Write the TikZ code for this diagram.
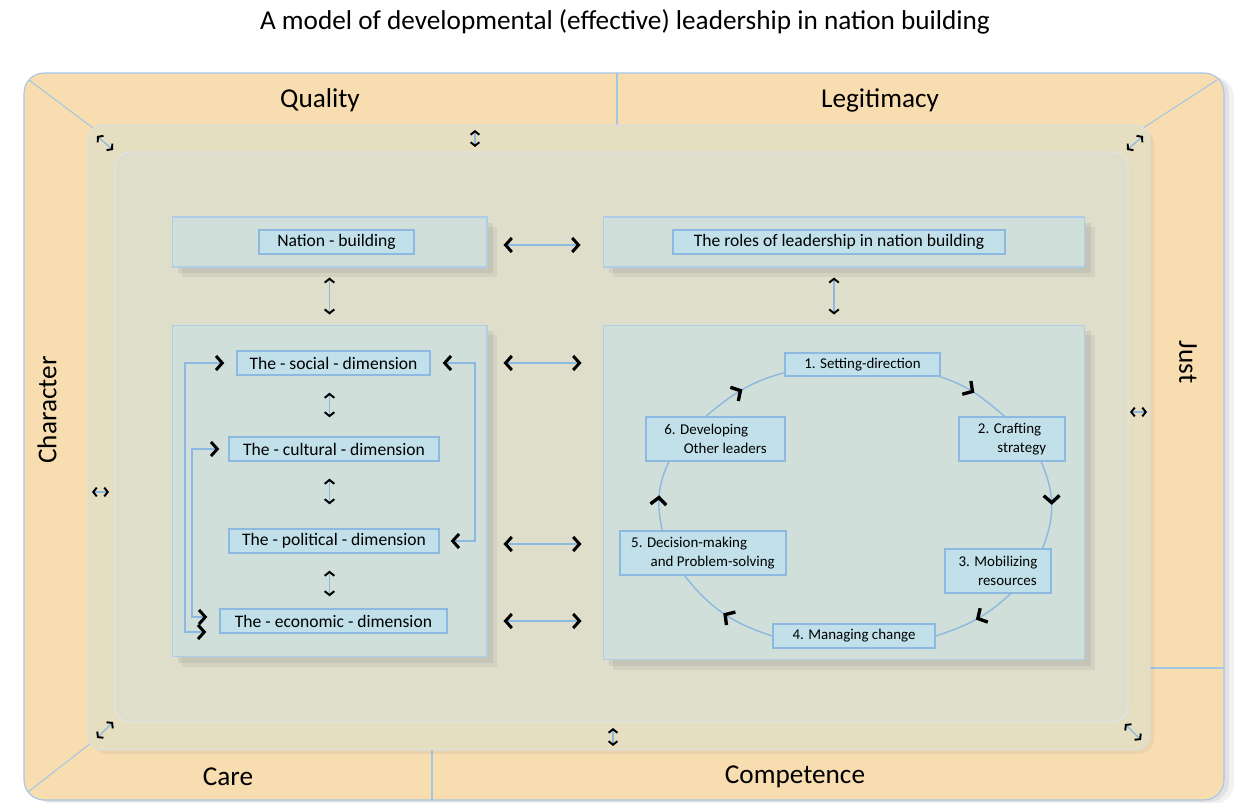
\documentclass[tikz,border=0pt]{standalone}
\usepackage{fontspec}
\setmainfont{Carlito}
\usetikzlibrary{arrows.meta,shadows,decorations.markings}

\definecolor{frameorange}{RGB}{248,221,176}
\definecolor{framesand}{RGB}{229,222,193}
\definecolor{innergrey}{RGB}{222,222,202}
\definecolor{panelgrey}{RGB}{208,223,218}
\definecolor{labelblue}{RGB}{193,224,234}
\definecolor{lineblue}{RGB}{141,184,223}

\begin{document}
\begin{tikzpicture}[x=0.02cm,y=0.02cm,
  >={Straight Barb[black,length=3.6pt,width=8pt,line width=1.7pt]},
  rim/.style={draw=lineblue!80,line width=0.6pt},
  side/.style={font=\fontsize{15.5}{18}\selectfont},
  panel/.style={draw=lineblue!70,fill=panelgrey,line width=0.6pt,inner sep=0pt,
    drop shadow={shadow xshift=0.2cm,shadow yshift=-0.2cm,opacity=0.12},
    drop shadow={shadow xshift=0.12cm,shadow yshift=-0.12cm,opacity=0.15}},
  tag/.style={draw=lineblue,fill=labelblue,line width=0.8pt,inner sep=0pt,
    minimum height=0.48cm,font=\fontsize{10}{12}\selectfont},
  stage/.style={tag,font=\fontsize{8.5}{10.5}\selectfont,align=left},
  link/.style={lineblue,line width=0.8pt,<->},
  vlink/.style={lineblue,line width=0.9pt,
    arrows={Straight Barb[black,length=2.2pt,width=5.5pt,line width=1.1pt]-Straight Barb[black,length=2.2pt,width=5.5pt,line width=1.1pt]}},
  fb/.style={lineblue,line width=0.8pt,<->},
  tiny/.style={lineblue,line width=0.7pt,
    arrows={Straight Barb[black,length=2pt,width=5pt,line width=1.1pt]-Straight Barb[black,length=2pt,width=5pt,line width=1.1pt]}},
  turn/.style={lineblue,line width=0.8pt,postaction={decorate},
    decoration={markings,mark=at position 0.5 with {\arrow{Straight Barb[black,length=4pt,width=9pt,line width=1.9pt]}}}}]

  \useasboundingbox (0,0) rectangle (1248,802);

  \node[font=\fontsize{15.5}{18}\selectfont] (title) at (625,780) {A model of developmental (effective) leadership in nation building};

  \draw[rim,fill=frameorange,rounded corners=0.4cm,
    drop shadow={shadow xshift=0.2cm,shadow yshift=-0.08cm,opacity=0.1},
    drop shadow={shadow xshift=0.1cm,shadow yshift=-0.04cm,opacity=0.15}] (24,2) rectangle (1224,729);
  \draw[rim] (617,729) -- (617,677);
  \draw[rim] (29,722) -- (93,674);
  \draw[rim] (1217,722) -- (1143,674);
  \draw[rim] (1149,134) -- (1224,134);
  \draw[rim] (28,10) -- (91,59);
  \draw[rim] (432,54) -- (432,2);
  \draw[draw=lineblue!40,fill=framesand,rounded corners=0.3cm,
    drop shadow={shadow xshift=0.08cm,shadow yshift=-0.08cm,opacity=0.1}] (88,52) rectangle (1150,677);
  \draw[draw=lineblue!30,fill=innergrey,rounded corners=0.3cm] (115,80) rectangle (1128,650);

  \node[side] (quality) at (320,702) {Quality};
  \node[side] (legit) at (880,702) {Legitimacy};
  \node[side,rotate=90] (character) at (47,392) {Character};
  \node[side,rotate=-90] (just) at (1188,440) {Just};
  \node[side] (care) at (228,25) {Care};
  \node[side] (competence) at (795,25) {Competence};

  \draw[tiny] (97,666) -- (113,652);
  \draw[tiny] (1127,652) -- (1143,666);
  \draw[tiny] (97,64) -- (113,80);
  \draw[tiny] (1125,78) -- (1141,62);
  \draw[tiny] (475,672) -- (475,655);
  \draw[tiny] (613,74) -- (613,56);
  \draw[tiny] (92,310) -- (109,310);
  \draw[tiny] (1130,390) -- (1147,390);

  \node[panel,minimum width=6.3cm,minimum height=1cm] (nb) at (329.5,560) {};
  \node[panel,minimum width=9.64cm,minimum height=1cm] (roles) at (844,560) {};
  \node[panel,minimum width=6.3cm,minimum height=6.64cm] (dims) at (329.5,311) {};
  \node[panel,minimum width=9.64cm,minimum height=6.7cm] (wheel) at (844,309.5) {};

  \node[tag,minimum width=3.1cm] (nbl) at (336.5,560) {Nation - building};
  \node[tag,minimum width=6.64cm] (rl) at (839,560) {The roles of leadership in nation building};
  \node[tag,minimum width=3.86cm] (soc) at (333.5,439) {The - social - dimension};
  \node[tag,minimum width=4.2cm] (cul) at (334,353) {The - cultural - dimension};
  \node[tag,minimum width=4.2cm] (pol) at (334,261) {The - political - dimension};
  \node[tag,minimum width=4.54cm] (eco) at (333.5,181) {The - economic - dimension};

  \node[stage,minimum width=3.1cm,minimum height=0.46cm] (s1) at (862.5,437.5) {1. Setting-direction};
  \node[stage,minimum width=2.12cm,minimum height=0.88cm] (s2) at (1012,363) {2. Crafting\\\hspace*{1.3em}strategy};
  \node[stage,minimum width=2.12cm,minimum height=0.88cm] (s3) at (998,231) {3. Mobilizing\\\hspace*{1.3em}resources};
  \node[stage,minimum width=3.24cm,minimum height=0.48cm] (s4) at (854,166) {4. Managing change};
  \node[stage,minimum width=3.32cm,minimum height=0.88cm] (s5) at (703,249) {5. Decision-making\\\hspace*{1.3em}and Problem-solving};
  \node[stage,minimum width=2.78cm,minimum height=0.88cm] (s6) at (715.5,363) {6. Developing\\\hspace*{1.3em}Other leaders};

  \coordinate (rx) at (475,0);
  \coordinate (lo) at (185,0);
  \coordinate (li) at (192,0);

  \draw[vlink,shorten <=0.2cm,shorten >=0.2cm] (nb) -- (dims);
  \draw[vlink,shorten <=0.2cm,shorten >=0.2cm] ([xshift=-0.2cm]roles.south) -- ([xshift=-0.2cm]wheel.north);
  \draw[link,shorten <=0.32cm,shorten >=0.44cm] ([yshift=-0.06cm]nb.east) -- ([yshift=-0.06cm]roles.west);
  \draw[link,shorten <=0.32cm,shorten >=0.42cm] (soc -| dims.east) -- (soc -| wheel.west);
  \draw[link,shorten <=0.32cm,shorten >=0.42cm] ([yshift=-0.06cm]pol -| dims.east) -- ([yshift=-0.06cm]pol -| wheel.west);
  \draw[link,shorten <=0.32cm,shorten >=0.42cm] (eco -| dims.east) -- (eco -| wheel.west);

  \draw[vlink,shorten <=0.34cm,shorten >=0.38cm] (soc.south -| nb) -- (cul.north -| nb);
  \draw[vlink,shorten <=0.34cm,shorten >=0.48cm] (cul.south -| nb) -- (pol.north -| nb);
  \draw[vlink,shorten <=0.34cm,shorten >=0.24cm] (pol.south -| nb) -- (eco.north -| nb);

  \draw[fb,shorten <=0.24cm,shorten >=0.22cm] (soc.east) -- (soc.east -| rx) -- (pol.east -| rx) -- (pol.east);
  \draw[fb,shorten <=0.24cm,shorten >=0.26cm] (soc.west) -- (soc.west -| lo) -- ([yshift=-0.22cm]eco.west -| lo) -- ([yshift=-0.22cm]eco.west);
  \draw[fb,shorten <=0.18cm,shorten >=0.24cm] (cul.west) -- (cul.west -| li) -- ([yshift=0.08cm]eco.west -| li) -- ([yshift=0.08cm]eco.west);

  \draw[turn] (s1.-9) to[out=-17,in=140] (s2.108);
  \draw[turn] (s2.-38) to[out=-66,in=68] (s3.27);
  \draw[turn] (s3.-61) to[out=-137,in=18] (s4.east);
  \draw[turn] (s4.west) to[out=162,in=-52] (s5.-129);
  \draw[turn] (s5.151) to[out=101,in=-116] (s6.-154);
  \draw[turn] (s6.113) to[out=40,in=-165] (s1.-174);
\end{tikzpicture}
\end{document}
